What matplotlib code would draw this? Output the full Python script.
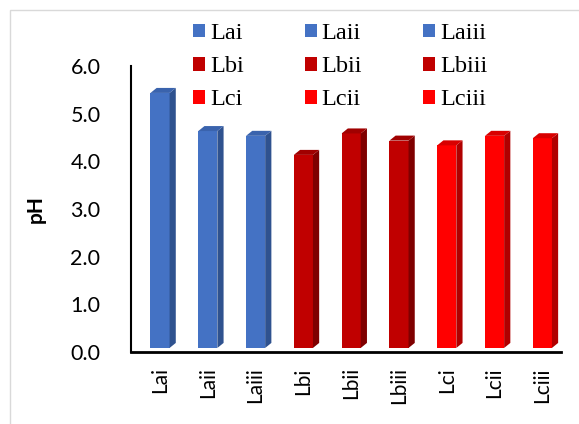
import numpy as np
import matplotlib
matplotlib.use("Agg")
import matplotlib.pyplot as plt
from matplotlib.patches import Polygon, Patch, Rectangle

# data
names = ["Lai", "Laii", "Laiii", "Lbi", "Lbii", "Lbiii", "Lci", "Lcii", "Lciii"]
ph = [5.35, 4.55, 4.45, 4.05, 4.5, 4.35, 4.25, 4.45, 4.4]
yticks = [0.0, 1.0, 2.0, 3.0, 4.0, 5.0, 6.0]

# front / side / top colours per group
front = ["#4472C4"] * 3 + ["#C00000"] * 3 + ["#FF0000"] * 3
side = ["#2F528F"] * 3 + ["#7F0000"] * 3 + ["#B00000"] * 3
top = ["#3A63AD"] * 3 + ["#A00000"] * 3 + ["#D80000"] * 3

fig = plt.figure(figsize=(5.79, 4.24), dpi=100)
ax = fig.add_axes([131 / 579, 1 - 352 / 424, 430 / 579, 286 / 424])

x = np.arange(len(names))
w = 0.4
lift = 0.085
dx, dy = 0.13, 0.105

ax.bar(x, ph, width=w, bottom=lift, color=front, edgecolor="none", zorder=3)
for i in range(len(names)):
    r = x[i] + w / 2
    l = x[i] - w / 2
    t = ph[i] + lift
    ax.add_patch(Polygon([(r, lift), (r + dx, lift + dy), (r + dx, t + dy), (r, t)],
                         closed=True, facecolor=side[i], edgecolor="none", zorder=3))
    ax.add_patch(Polygon([(l, t), (r, t), (r + dx, t + dy), (l + dx, t + dy)],
                         closed=True, facecolor=top[i], edgecolor="none", zorder=3))

ax.set_xlim(-0.607, 8.39)
ax.set_ylim(0, 6)
ax.set_yticks(yticks)
ax.set_yticklabels(["%.1f" % v for v in yticks], fontsize=15.5, family="Lato")
ax.set_xticks(x)
ax.set_xticklabels(names, rotation=90, fontsize=15, family="Lato")
ax.tick_params(length=0)
ax.tick_params(axis="x", pad=11)
ax.tick_params(axis="y", pad=22)
ax.set_ylabel("pH", fontsize=15, fontweight="bold", family="Lato", labelpad=18)

for s in ["top", "right"]:
    ax.spines[s].set_visible(False)
ax.spines["left"].set_linewidth(1.5)
ax.spines["bottom"].set_linewidth(2)

# legend, row-wise order
handles = [Patch(facecolor=front[i], label=names[i]) for i in range(len(names))]
order = [0, 3, 6, 1, 4, 7, 2, 5, 8]
fig.legend([handles[i] for i in order], [names[i] for i in order], ncol=3,
           loc="upper left", bbox_to_anchor=(181 / 579, 1 - 11 / 424),
           frameon=False, prop={"family": "Liberation Serif", "size": 17.5},
           handlelength=0.5, handleheight=0.5, handletextpad=0.2,
           columnspacing=2.5, labelspacing=0.5, borderpad=0)

# chart border
fig.patches.append(Rectangle((10 / 579, -0.1), 1.2, 1 - 10 / 424 + 0.1,
                             transform=fig.transFigure, fill=False,
                             edgecolor="#D9D9D9", linewidth=1))

fig.savefig("out.png", dpi=100)
